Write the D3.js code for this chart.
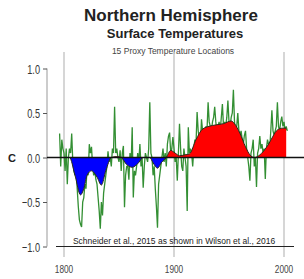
<!doctype html>
<html lang="en">
<head>
<meta charset="utf-8">
<title>Northern Hemisphere Surface Temperatures</title>
<script src="https://d3js.org/d3.v7.min.js"></script>
<style>
  body { margin: 0; background: #fff; }
  svg text { font-family: "Liberation Sans", Arial, sans-serif; }
</style>
</head>
<body>
<div id="chart"></div>
<script>
// annual proxy values, one per year starting at firstYear
var firstYear = 1796;
var proxy = [
  0.27, -0.1, 0.2, 0.1,
  0.05, -0.15, 0.1, -0.3, 0.0, 0.1, 0.05, 0.27, -0.05, -0.15,
  -0.2, -0.1, -0.35, -0.55, -0.7, -0.75, -0.78, -0.5, -0.45, -0.3,
  -0.35, -0.1, -0.2, 0.15, 0.05, 0.12, -0.1, -0.2, -0.15, -0.25,
  -0.3, -0.45, -0.6, -0.8, -0.5, -0.65, -0.4, -0.3, -0.2, -0.1,
  0.07, -0.05, 0.0, -0.1, 0.1, 0.05, 0.57, 0.05, 0.1, 0.0,
  -0.05, 0.08, -0.15, 0.05, 0.13, -0.56, -0.2, -0.1, -0.1, -0.25,
  0.05, -0.1, 0.34, -0.45, -0.15, -0.2, -0.1, 0.05, -0.05, 0.15,
  -0.1, 0.0, -0.34, -0.1, 0.05, 0.0, -0.05, 0.1, 0.62, 0.05,
  0.0, -0.2, -0.1, -0.35, -0.55, -0.79, -0.3, -0.2, -0.1, 0.0,
  0.1, -0.05, 0.05, -0.1, 0.15, 0.24, 0.28, 0.05, 0.1, 0.23,
  0.1, -0.05, 0.0, -0.26, 0.05, 0.38, 0.1, -0.1, -0.15, 0.1,
  0.0, -0.1, -0.6, 0.34, 0.05, 0.1, 0.05, -0.1, 0.1, 0.2,
  0.15, 0.51, 0.3, 0.2, 0.15, 0.43, 0.3, 0.25, 0.2, 0.35,
  0.3, 0.62, 0.4, 0.35, 0.3, 0.4, 0.45, 0.57, 0.4, 0.3,
  0.35, 0.4, 0.3, 0.45, 0.6, 0.35, 0.4, 0.35, 0.45, 0.64,
  0.4, 0.35, 0.45, 0.5, 0.76, 0.4, 0.3, 0.35, 0.5, 0.3,
  0.25, 0.3, 0.2, 0.15, 0.25, 0.3, 0.1, 0.0, -0.1, -0.26,
  0.05, 0.1, 0.2, -0.1, 0.0, -0.33, 0.05, 0.1, 0.24, 0.1,
  0.15, 0.05, 0.1, -0.24, 0.1, 0.2, 0.15, 0.1, 0.3, 0.53,
  0.3, 0.25, 0.3, 0.35, 0.62, 0.35, 0.3, 0.4, 0.46, 0.35,
  0.4, 0.3, 0.35, 0.3
];

var smoothYears = [1800, 1805, 1810, 1815, 1818, 1821, 1825, 1830, 1834, 1838, 1843, 1848, 1852,
  1857, 1862, 1867, 1872, 1878, 1881, 1885, 1889, 1893, 1897, 1901, 1905, 1910, 1914,
  1920, 1926, 1935, 1945, 1952, 1955, 1960, 1965, 1969, 1973, 1977, 1982, 1986, 1990, 1994, 1999, 2002];
var smoothVals = [0.0, 0.0, -0.2, -0.42, -0.35, -0.2, -0.15, -0.22, -0.31, -0.15, 0.0, 0.01, 0.0,
  -0.08, -0.11, -0.07, 0.0, 0.0, -0.06, -0.12, -0.05, 0.0, 0.08, 0.05, 0.02, 0.03, 0.04,
  0.2, 0.32, 0.36, 0.38, 0.41, 0.38, 0.27, 0.12, 0.03, 0.0, 0.02, 0.08, 0.15, 0.24, 0.31, 0.33, 0.33];

var yTicks = [1.0, 0.5, 0.0, -0.5, -1.0];
var xTicks = [1800, 1900, 2000];

var width = 304, height = 279;

var x = d3.scaleLinear().domain([1800, 2000]).range([64, 284]);
var y = d3.scaleLinear().domain([-1, 1]).range([246.5, 68.5]);

var svg = d3.select("#chart").append("svg")
  .attr("width", width).attr("height", height);

var annual = proxy.map(function(v, i){ return {year: firstYear + i, value: v}; });
var smooth = smoothYears.map(function(yr, i){ return {year: yr, value: smoothVals[i]}; });

// titles
svg.append("text").attr("x", 171).attr("y", 21).attr("text-anchor", "middle")
  .style("font-size", "17px").style("font-weight", "bold").attr("fill", "#222")
  .text("Northern Hemisphere");
svg.append("text").attr("x", 175).attr("y", 38).attr("text-anchor", "middle")
  .style("font-size", "13px").style("font-weight", "bold").attr("fill", "#222")
  .text("Surface Temperatures");
svg.append("text").attr("x", 173).attr("y", 54).attr("text-anchor", "middle")
  .style("font-size", "8.5px").attr("fill", "#444")
  .text("15 Proxy Temperature Locations");

// vertical grid lines
svg.selectAll(".grid").data(xTicks).enter().append("line")
  .attr("class", "grid")
  .attr("x1", function(d){ return x(d); }).attr("x2", function(d){ return x(d); })
  .attr("y1", 52).attr("y2", 257)
  .attr("stroke", "#c8c8c8").attr("stroke-width", 1.5);

// y axis, labels drawn condensed
var yAxis = d3.axisLeft(y).tickValues(yTicks).tickSize(4).tickFormat("");
var gy = svg.append("g").attr("transform", "translate(47,0)").call(yAxis);
gy.select(".domain").attr("stroke", "#999").attr("d", "M0," + y(1) + "V" + y(-1));
gy.selectAll(".tick line").attr("stroke", "#555");

svg.selectAll(".yl").data(yTicks).enter().append("text")
  .attr("class", "yl")
  .attr("transform", function(d){ return "translate(40," + (y(d) + 5) + ") scale(0.68,1)"; })
  .attr("text-anchor", "end").style("font-size", "13.5px").attr("fill", "#333")
  .text(d3.format(".1f"));

svg.append("text").attr("x", 8).attr("y", y(0) + 4)
  .style("font-size", "11px").style("font-weight", "bold").attr("fill", "#222").text("C");

// annual green line
var line = d3.line().x(function(d){ return x(d.year); }).y(function(d){ return y(d.value); });
svg.append("path").datum(annual).attr("d", line)
  .attr("fill", "none").attr("stroke", "#338f33").attr("stroke-width", 1.3);

// filled smoothed curve, red above zero and blue below
svg.append("clipPath").attr("id", "above").append("rect")
  .attr("x", 0).attr("y", 0).attr("width", width).attr("height", y(0));
svg.append("clipPath").attr("id", "below").append("rect")
  .attr("x", 0).attr("y", y(0)).attr("width", width).attr("height", height - y(0));

var area = d3.area().curve(d3.curveMonotoneX)
  .x(function(d){ return x(d.year); }).y0(y(0)).y1(function(d){ return y(d.value); });
svg.append("path").datum(smooth).attr("d", area).attr("fill", "#ff0000").attr("clip-path", "url(#above)");
svg.append("path").datum(smooth).attr("d", area).attr("fill", "#0000ff").attr("clip-path", "url(#below)");

var sline = d3.line().curve(d3.curveMonotoneX)
  .x(function(d){ return x(d.year); }).y(function(d){ return y(d.value); });
svg.append("path").datum(smooth).attr("d", sline)
  .attr("fill", "none").attr("stroke", "#2a2a1a").attr("stroke-width", 1);

// zero line
svg.append("line").attr("x1", 47).attr("x2", width).attr("y1", y(0)).attr("y2", y(0))
  .attr("stroke", "#111").attr("stroke-width", 1.5);

// source note
svg.append("line").attr("x1", 56).attr("x2", 294).attr("y1", y(-1)).attr("y2", y(-1))
  .attr("stroke", "#222").attr("stroke-width", 1);
svg.append("text").attr("x", 174).attr("y", y(-1) - 3).attr("text-anchor", "middle")
  .style("font-size", "8.5px").attr("fill", "#222")
  .text("Schneider et al., 2015 as shown in Wilson et al., 2016");

// x labels, condensed
svg.selectAll(".xl").data(xTicks).enter().append("text")
  .attr("class", "xl")
  .attr("transform", function(d){ return "translate(" + x(d) + ",273) scale(0.72,1)"; })
  .attr("text-anchor", "middle").style("font-size", "11.5px").attr("fill", "#444")
  .text(function(d){ return d; });
</script>
</body>
</html>
